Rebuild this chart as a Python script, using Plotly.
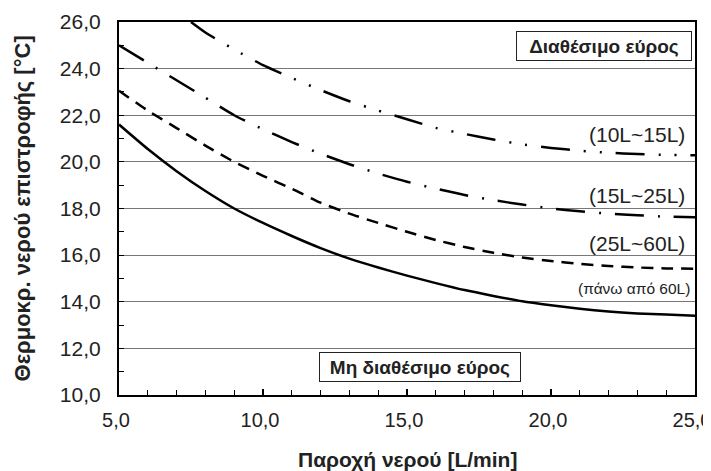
import plotly.graph_objects as go

# ---- data ----
flow = [5, 6, 7, 8, 9, 10, 11, 12, 13, 14, 15, 16, 17, 18, 19, 20, 21, 22, 23, 24, 25]
over60 = [21.6, 20.55, 19.6, 18.75, 18.0, 17.38, 16.82, 16.3, 15.85, 15.47, 15.12, 14.8,
          14.5, 14.25, 14.02, 13.85, 13.7, 13.58, 13.5, 13.45, 13.4]
l25_60 = [23.05, 22.2, 21.45, 20.7, 20.0, 19.4, 18.85, 18.25, 17.78, 17.38, 17.0, 16.65,
          16.35, 16.1, 15.9, 15.75, 15.62, 15.53, 15.47, 15.43, 15.42]
l15_25 = [25.0, 24.25, 23.5, 22.75, 22.0, 21.4, 20.85, 20.35, 19.9, 19.5, 19.15, 18.85,
          18.58, 18.36, 18.17, 18.0, 17.88, 17.78, 17.71, 17.65, 17.62]
flow_10_15 = [7.5, 8, 9, 10, 11, 12, 13, 14, 15, 16, 17, 18, 19, 20, 21, 22, 23, 24, 25]
l10_15 = [26.0, 25.55, 24.82, 24.15, 23.6, 23.08, 22.6, 22.2, 21.83, 21.46, 21.2, 20.96,
          20.75, 20.6, 20.48, 20.39, 20.34, 20.3, 20.28]

series_labels = ["(10L~15L)", "(15L~25L)", "(25L~60L)", "(πάνω από 60L)"]
label_y = [21.18, 18.57, 16.51, 14.58]
x_title = "Παροχή νερού [L/min]"
y_title = "Θερμοκρ. νερού επιστροφής [°C]"
avail_text = "Διαθέσιμο εύρος"
unavail_text = "Μη διαθέσιμο εύρος"

FONT = "Liberation Sans, Arial, sans-serif"
LW = 2.5

fig = go.Figure()
fig.add_trace(go.Scatter(x=flow_10_15, y=l10_15, mode="lines",
                         line=dict(color="black", width=LW, shape="spline", smoothing=0.6,
                                   dash="29px,14px,2px,14px,2px,14px")))
fig.add_trace(go.Scatter(x=flow, y=l15_25, mode="lines",
                         line=dict(color="black", width=LW, shape="spline", smoothing=0.6,
                                   dash="29px,14px,2px,14px")))
fig.add_trace(go.Scatter(x=flow, y=l25_60, mode="lines",
                         line=dict(color="black", width=LW, shape="spline", smoothing=0.6,
                                   dash="12px,8px")))
fig.add_trace(go.Scatter(x=flow, y=over60, mode="lines",
                         line=dict(color="black", width=LW, shape="spline", smoothing=0.6)))

# curve labels
for i, (t, yy) in enumerate(zip(series_labels, label_y)):
    narrow = i == 3
    fig.add_annotation(x=24.72 if not narrow else 24.9, y=yy, xref="x", yref="y", text=t,
                       showarrow=False, xanchor="right", yanchor="middle",
                       font=dict(family=("Liberation Sans Narrow, " + FONT) if narrow else FONT,
                                 size=15.5 if narrow else 21, color="#222"))

# boxed region labels
fig.add_annotation(x=21.83, y=24.98, xref="x", yref="y", text="<b>%s</b>" % avail_text,
                   showarrow=False, xanchor="center", yanchor="middle",
                   font=dict(family=FONT, size=19, color="#222"),
                   bgcolor="white", bordercolor="#222", borderwidth=1, borderpad=1,
                   width=172, height=26)
fig.add_annotation(x=15.45, y=11.2, xref="x", yref="y", text="<b>%s</b>" % unavail_text,
                   showarrow=False, xanchor="center", yanchor="middle",
                   font=dict(family=FONT, size=19, color="#222"),
                   bgcolor="white", bordercolor="#222", borderwidth=1, borderpad=1,
                   width=198, height=26)

# axis titles as annotations (precise placement)
fig.add_annotation(x=0.5, y=-0.1716, xref="paper", yref="paper", text="<b>%s</b>" % x_title,
                   showarrow=False, xanchor="center", yanchor="middle",
                   font=dict(family=FONT, size=21, color="#222"))
fig.add_annotation(x=-0.1667, y=0.5, xref="paper", yref="paper", text="<b>%s</b>" % y_title,
                   showarrow=False, xanchor="center", yanchor="middle", textangle=-90,
                   font=dict(family=FONT, size=22, color="#222"))

# the page body adds an 8px offset at top-left, so the figure is 8px smaller each way
fig.update_layout(
    width=703, height=463,
    margin=dict(l=111, r=16, t=14, b=76),
    paper_bgcolor="white", plot_bgcolor="white",
    showlegend=False,
    separators=",.",
    font=dict(family=FONT, color="#222"),
)
fig.update_xaxes(
    range=[5, 25], tickmode="array", tickvals=[5, 10, 15, 20, 25],
    tickformat=".1f", tickfont=dict(size=20, color="#222"),
    ticks="inside", ticklen=6, tickwidth=1.5, tickcolor="black",
    minor=dict(dtick=1, ticks="inside", ticklen=5, tickwidth=1, tickcolor="black", showgrid=False),
    showgrid=False, zeroline=False,
    showline=True, linecolor="black", linewidth=2.2, mirror=True,
    ticklabelstandoff=6, ticklabelshift=-3, ticklabeloverflow="allow", automargin=False,
)
fig.update_yaxes(
    range=[10, 26], dtick=2, tick0=10,
    tickformat=".1f", tickfont=dict(size=21, color="#222"),
    ticks="inside", ticklen=5, tickwidth=1, tickcolor="black",
    minor=dict(dtick=1, ticks="inside", ticklen=5, tickwidth=1, tickcolor="black", showgrid=False),
    showgrid=True, gridcolor="#777", gridwidth=1.3,
    zeroline=False,
    showline=True, linecolor="black", linewidth=2.2, mirror=True,
    ticklabelstandoff=12, ticklabeloverflow="allow", automargin=False,
)

fig.write_html("out.html")
